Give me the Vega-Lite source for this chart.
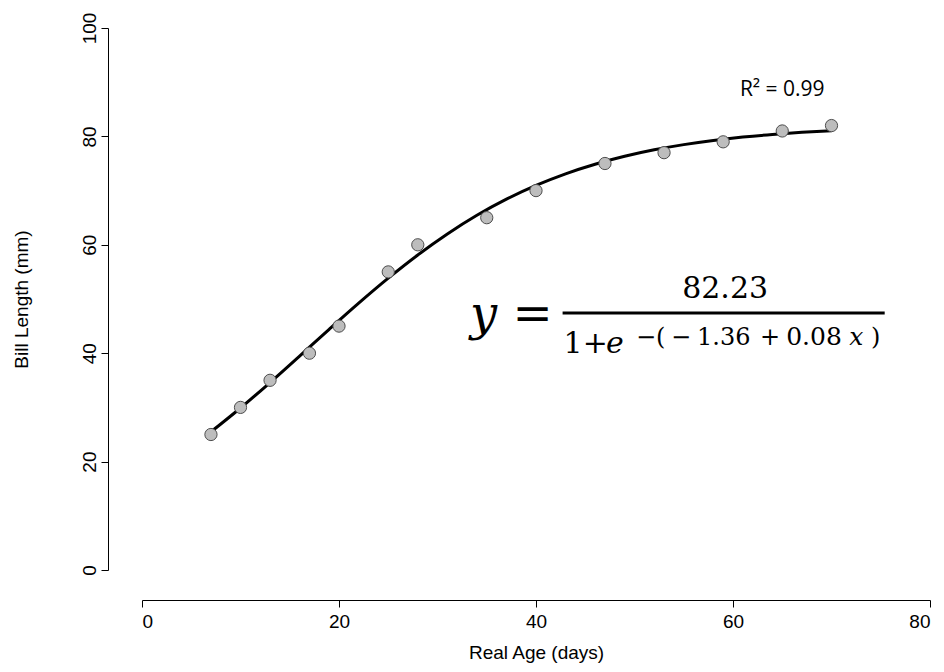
{
  "$schema": "https://vega.github.io/schema/vega-lite/v6.json",
  "width": 788,
  "height": 542,
  "autosize": "none",
  "padding": {"left": 142, "top": 28, "right": 14, "bottom": 102},
  "background": "white",
  "config": {"view": {"stroke": null}, "font": "Liberation Sans"},
  "datasets": {
    "obs": [
      {"age": 7, "bill": 25}, {"age": 10, "bill": 30}, {"age": 13, "bill": 35},
      {"age": 17, "bill": 40}, {"age": 20, "bill": 45}, {"age": 25, "bill": 55},
      {"age": 28, "bill": 60}, {"age": 35, "bill": 65}, {"age": 40, "bill": 70},
      {"age": 47, "bill": 75}, {"age": 53, "bill": 77}, {"age": 59, "bill": 79},
      {"age": 65, "bill": 81}, {"age": 70, "bill": 82}
    ],
    "fit": [
      {"age": 7, "bill": 25.49}, {"age": 10, "bill": 29.89}, {"age": 13, "bill": 34.59},
      {"age": 16, "bill": 39.47}, {"age": 19, "bill": 44.40}, {"age": 22, "bill": 49.23},
      {"age": 25, "bill": 53.84}, {"age": 28, "bill": 58.12}, {"age": 31, "bill": 62.00},
      {"age": 34, "bill": 65.44}, {"age": 37, "bill": 68.42}, {"age": 40, "bill": 70.96},
      {"age": 43, "bill": 73.10}, {"age": 46, "bill": 74.87}, {"age": 49, "bill": 76.33},
      {"age": 52, "bill": 77.52}, {"age": 55, "bill": 78.48}, {"age": 58, "bill": 79.25},
      {"age": 61, "bill": 79.87}, {"age": 64, "bill": 80.36}, {"age": 67, "bill": 80.75},
      {"age": 70, "bill": 81.06}
    ],
    "one": [{"k": 1}]
  },
  "layer": [
    {
      "data": {"name": "fit"},
      "mark": {"type": "line", "color": "black", "strokeWidth": 3, "interpolate": "monotone"},
      "encoding": {
        "x": {
          "field": "age", "type": "quantitative",
          "scale": {"domain": [0, 80], "nice": false},
          "axis": {
            "title": "Real Age (days)", "values": [0, 20, 40, 60, 80], "offset": 30,
            "grid": false, "domainColor": "black", "tickColor": "black", "tickSize": 7,
            "labelFontSize": 19, "titleFontSize": 19, "titleFontWeight": "normal",
            "labelColor": "black", "titleColor": "black", "labelPadding": 5, "titlePadding": 12,
            "labelFont": "Liberation Sans", "titleFont": "Liberation Sans"
          }
        },
        "y": {
          "field": "bill", "type": "quantitative",
          "scale": {"domain": [0, 100], "nice": false},
          "axis": {
            "title": "Bill Length (mm)", "values": [0, 20, 40, 60, 80, 100], "offset": 34,
            "grid": false, "domainColor": "black", "tickColor": "black", "tickSize": 7,
            "labelAngle": -90, "labelAlign": "center", "labelBaseline": "bottom",
            "labelFontSize": 19, "titleFontSize": 19, "titleFontWeight": "normal",
            "labelColor": "black", "titleColor": "black", "labelPadding": 2, "titlePadding": 49,
            "labelFont": "Liberation Sans", "titleFont": "Liberation Sans"
          }
        }
      }
    },
    {
      "data": {"name": "obs"},
      "mark": {"type": "point", "shape": "circle", "filled": true, "fill": "#bdbdbd", "stroke": "#4d4d4d", "strokeWidth": 1, "size": 150, "opacity": 1},
      "encoding": {
        "x": {"field": "age", "type": "quantitative"},
        "y": {"field": "bill", "type": "quantitative"}
      }
    },
    {
      "data": {"name": "one"},
      "mark": {"type": "text", "text": "R² = 0.99", "font": "Open Sans", "fontSize": 21, "align": "center", "baseline": "alphabetic", "color": "black"},
      "encoding": {"x": {"datum": 65.0, "type": "quantitative"}, "y": {"datum": 87.5, "type": "quantitative"}}
    },
    {
      "data": {"name": "one"},
      "mark": {"type": "text", "text": "y =", "font": "DejaVu Serif", "fontStyle": "italic", "fontSize": 48, "align": "left", "baseline": "alphabetic", "color": "black"},
      "encoding": {"x": {"datum": 33.3, "type": "quantitative"}, "y": {"datum": 44.3, "type": "quantitative"}}
    },
    {
      "data": {"name": "one"},
      "mark": {"type": "text", "text": "82.23", "font": "DejaVu Serif", "fontSize": 30, "align": "center", "baseline": "alphabetic", "color": "black"},
      "encoding": {"x": {"datum": 59.2, "type": "quantitative"}, "y": {"datum": 50.2, "type": "quantitative"}}
    },
    {
      "data": {"name": "one"},
      "mark": {"type": "rule", "color": "black", "strokeWidth": 3},
      "encoding": {
        "x": {"datum": 42.7, "type": "quantitative"}, "x2": {"datum": 75.4},
        "y": {"datum": 47.4, "type": "quantitative"}
      }
    },
    {
      "data": {"name": "one"},
      "mark": {"type": "text", "text": "1+", "font": "DejaVu Serif", "fontSize": 30, "align": "left", "baseline": "alphabetic", "color": "black"},
      "encoding": {"x": {"datum": 42.8, "type": "quantitative"}, "y": {"datum": 40.0, "type": "quantitative"}}
    },
    {
      "data": {"name": "one"},
      "mark": {"type": "text", "text": "e", "font": "DejaVu Serif", "fontStyle": "italic", "fontSize": 30, "align": "left", "baseline": "alphabetic", "color": "black"},
      "encoding": {"x": {"datum": 47.1, "type": "quantitative"}, "y": {"datum": 40.0, "type": "quantitative"}}
    },
    {
      "data": {"name": "one"},
      "mark": {"type": "text", "text": "−(", "font": "DejaVu Serif", "fontSize": 24, "align": "left", "baseline": "alphabetic", "color": "black"},
      "encoding": {"x": {"datum": 50.15, "type": "quantitative"}, "y": {"datum": 41.5, "type": "quantitative"}}
    },
    {
      "data": {"name": "one"},
      "mark": {"type": "text", "text": "−", "font": "DejaVu Serif", "fontSize": 24, "align": "left", "baseline": "alphabetic", "color": "black"},
      "encoding": {"x": {"datum": 53.7, "type": "quantitative"}, "y": {"datum": 41.5, "type": "quantitative"}}
    },
    {
      "data": {"name": "one"},
      "mark": {"type": "text", "text": "1.36", "font": "DejaVu Serif", "fontSize": 24, "align": "left", "baseline": "alphabetic", "color": "black"},
      "encoding": {"x": {"datum": 56.35, "type": "quantitative"}, "y": {"datum": 41.5, "type": "quantitative"}}
    },
    {
      "data": {"name": "one"},
      "mark": {"type": "text", "text": "+", "font": "DejaVu Serif", "fontSize": 24, "align": "left", "baseline": "alphabetic", "color": "black"},
      "encoding": {"x": {"datum": 62.75, "type": "quantitative"}, "y": {"datum": 41.5, "type": "quantitative"}}
    },
    {
      "data": {"name": "one"},
      "mark": {"type": "text", "text": "0.08", "font": "DejaVu Serif", "fontSize": 25, "align": "left", "baseline": "alphabetic", "color": "black"},
      "encoding": {"x": {"datum": 65.4, "type": "quantitative"}, "y": {"datum": 41.5, "type": "quantitative"}}
    },
    {
      "data": {"name": "one"},
      "mark": {"type": "text", "text": "x", "font": "DejaVu Serif", "fontStyle": "italic", "fontSize": 25, "align": "left", "baseline": "alphabetic", "color": "black"},
      "encoding": {"x": {"datum": 71.8, "type": "quantitative"}, "y": {"datum": 41.5, "type": "quantitative"}}
    },
    {
      "data": {"name": "one"},
      "mark": {"type": "text", "text": ")", "font": "DejaVu Serif", "fontSize": 24, "align": "left", "baseline": "alphabetic", "color": "black"},
      "encoding": {"x": {"datum": 74.0, "type": "quantitative"}, "y": {"datum": 41.5, "type": "quantitative"}}
    }
  ]
}
